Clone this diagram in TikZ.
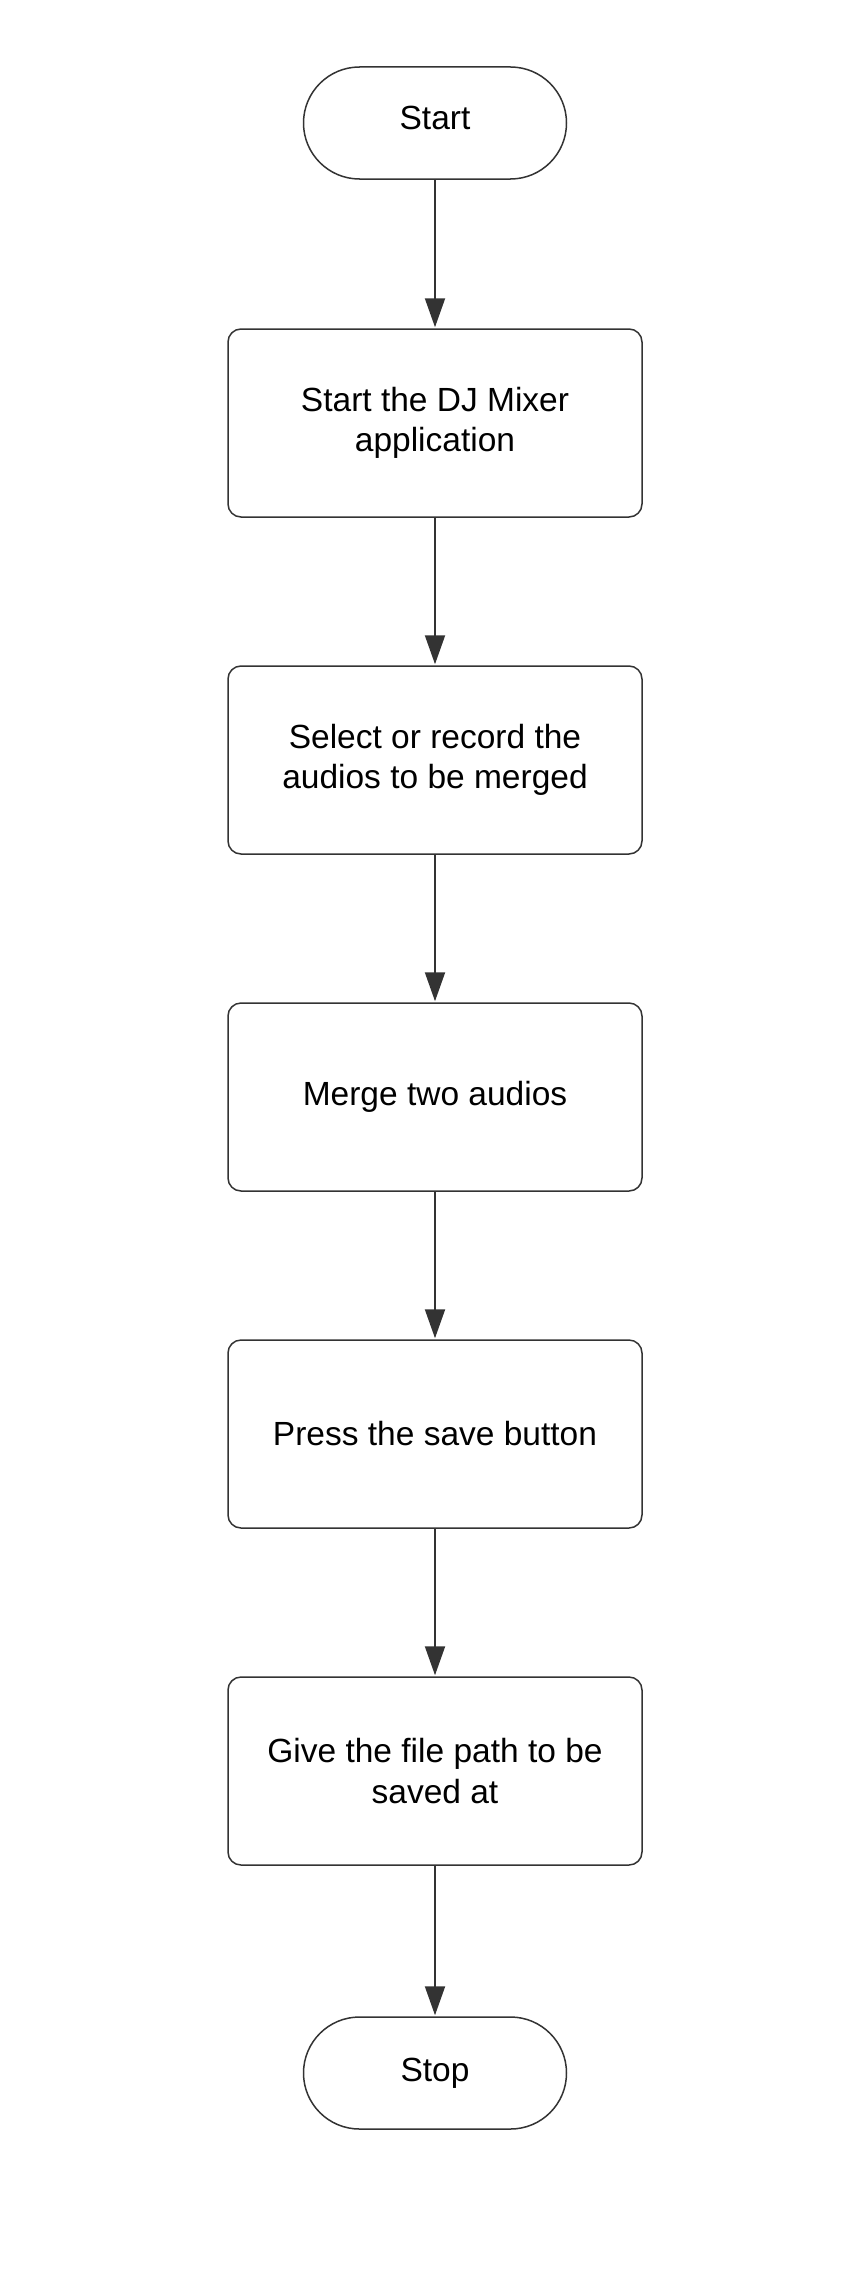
\documentclass[tikz,border=0pt]{standalone}
\usepackage{fontspec}
\setmainfont{Liberation Sans}
\usetikzlibrary{arrows.meta,shapes.misc}
\definecolor{ln}{HTML}{333333}
\begin{document}
\begin{tikzpicture}[x=1pt,y=-1pt,
  term/.style={draw=ln,line width=1.5pt,rounded rectangle,minimum width=263pt,minimum height=112pt,inner sep=0pt,font=\fontsize{33.5}{40.5}\selectfont,align=center},
  proc/.style={draw=ln,line width=1.5pt,rounded corners=13pt,minimum width=414pt,minimum height=188pt,inner sep=0pt,font=\fontsize{33.5}{40.5}\selectfont,align=center},
  flow/.style={draw=ln,line width=2pt,-{Triangle[length=29pt,width=20pt]},shorten >=1pt}]
\useasboundingbox (0,0) rectangle (866,2280);
\node[term] (start) at (435,123) {};
\node[font=\fontsize{33.5}{40.5}\selectfont] (starttext) at (435,118) {Start};
\node[proc] (b1) at (435,423) {Start the DJ Mixer\\application};
\node[proc] (b2) at (435,760) {Select or record the\\audios to be merged};
\node[proc] (b3) at (435,1097) {Merge two audios};
\node[proc] (b4) at (435,1434) {Press the save button};
\node[proc] (b5) at (435,1771) {Give the file path to be\\saved at};
\node[term] (stop) at (435,2073) {Stop};
\draw[flow] (start) -- (b1);
\draw[flow] (b1) -- (b2);
\draw[flow] (b2) -- (b3);
\draw[flow] (b3) -- (b4);
\draw[flow] (b4) -- (b5);
\draw[flow] (b5) -- (stop);
\end{tikzpicture}
\end{document}
